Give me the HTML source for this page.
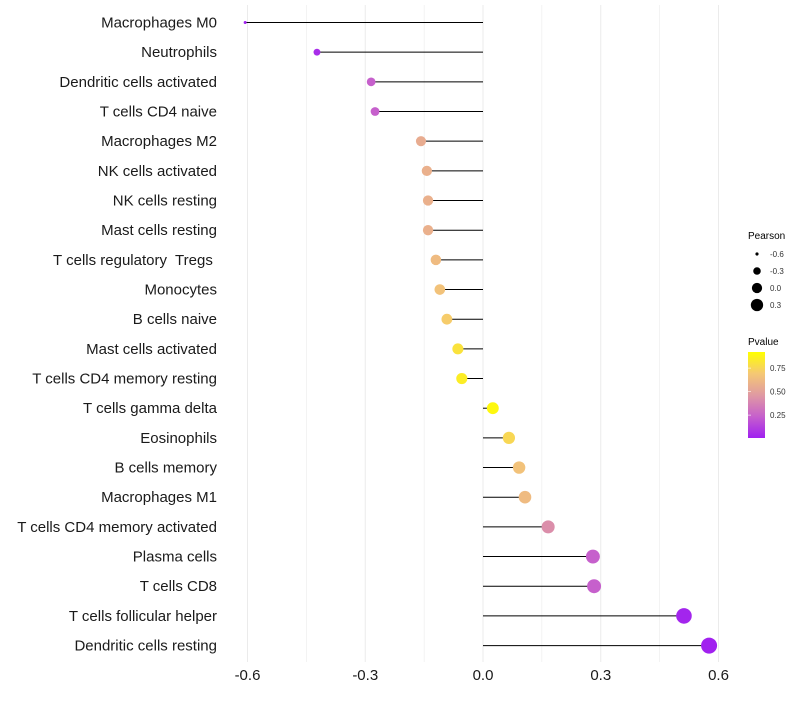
<!DOCTYPE html>
<html><head><meta charset="utf-8"><style>
body{margin:0;background:#fff;font-family:"Liberation Sans",sans-serif;}
text{white-space:pre;}
</style></head><body>
<svg id="chart" width="800" height="700" xmlns="http://www.w3.org/2000/svg" font-family="Liberation Sans, sans-serif">
<g id="grid"></g>
<g id="marks"></g>
<g id="ylabels"></g>
<g id="xlabels"></g>
<g id="legend">
<text x="748" y="239" font-size="10" fill="#000">Pearson</text>
<g id="sizeleg"></g>
<text x="748" y="345" font-size="10" fill="#000">Pvalue</text>
<defs><linearGradient id="pg" x1="0" y1="1" x2="0" y2="0">
<stop offset="0" stop-color="#A020F0"/><stop offset="0.25" stop-color="#C660CC"/><stop offset="0.5" stop-color="#E09AA2"/><stop offset="0.75" stop-color="#F5C874"/><stop offset="1" stop-color="#FFFF00"/></linearGradient></defs>
<rect x="748" y="352" width="17" height="86" fill="url(#pg)"/>
<g id="colorleg"></g>
</g>
</svg>
<script>
const categories=["Macrophages M0","Neutrophils","Dendritic cells activated","T cells CD4 naive","Macrophages M2","NK cells activated","NK cells resting","Mast cells resting","T cells regulatory  Tregs ","Monocytes","B cells naive","Mast cells activated","T cells CD4 memory resting","T cells gamma delta","Eosinophils","B cells memory","Macrophages M1","T cells CD4 memory activated","Plasma cells","T cells CD8","T cells follicular helper","Dendritic cells resting"];
const pearson=[-0.606,-0.423,-0.285,-0.275,-0.158,-0.143,-0.14,-0.14,-0.12,-0.11,-0.092,-0.064,-0.054,0.025,0.066,0.092,0.107,0.166,0.28,0.283,0.512,0.576];
const pvalue=[0.005,0.05,0.25,0.25,0.6,0.62,0.62,0.62,0.68,0.72,0.77,0.87,0.92,0.97,0.82,0.72,0.68,0.45,0.25,0.25,0.02,0.005];
const xTicks=[-0.6,-0.3,0.0,0.3,0.6];
const xTickLabels=["-0.6","-0.3","0.0","0.3","0.6"];
const sizeLegVals=[-0.6,-0.3,0.0,0.3];
const colorLegVals=[0.25,0.5,0.75];
const NS="http://www.w3.org/2000/svg";
function x(v){return 483+v*392.5;}
function y(i){return 22.5+i*29.67;}
function r(v){const t=Math.max(0,(v+0.606)/1.182);return Math.sqrt(2.25+t*(64-2.25));}
function rl(v){const t=Math.max(0,(v+0.606)/1.182);return Math.sqrt(2.25+t*(49-2.25));}
function cy(p){return 438.6-(p)*94;}
function lerp(a,b,t){return a+(b-a)*t;}
const stops=[[0,[160,32,240]],[0.25,[198,96,204]],[0.5,[224,154,162]],[0.75,[245,200,116]],[1,[255,255,0]]];
function col(p){for(let k=0;k<stops.length-1;k++){const[a,ca]=stops[k],[b,cb]=stops[k+1];if(p<=b){const t=(p-a)/(b-a);return `rgb(${ca.map((c,j)=>Math.round(lerp(c,cb[j],t))).join(',')})`;}}return 'rgb(255,255,0)';}
function mk(tag,attrs,parent){const e=document.createElementNS(NS,tag);for(const k in attrs)e.setAttribute(k,attrs[k]);parent.appendChild(e);return e;}
const grid=document.getElementById('grid');
for(let v=-0.6;v<=0.601;v+=0.15){const l=mk('line',{x1:x(v),x2:x(v),y1:5,y2:662,stroke:'#ebebeb','stroke-width':Math.abs(Math.round(v/0.15))%2===0?1:0.6},grid);

}
const marks=document.getElementById('marks'),yl=document.getElementById('ylabels');
categories.forEach((c,i)=>{
 const ln=mk('line',{x1:x(0),x2:x(pearson[i]),y1:y(i),y2:y(i),stroke:'#000','stroke-width':1},marks);
 
 
 const pt=mk('circle',{cx:x(pearson[i]),cy:y(i),r:r(pearson[i]),fill:col(pvalue[i])},marks);
 
 
 const t=mk('text',{x:217,y:y(i)+5,'text-anchor':'end','font-size':15,fill:'#1a1a1a'},yl);
 t.textContent=c;
 
 
});
const xl=document.getElementById('xlabels');
xTicks.forEach((v,i)=>{const t=mk('text',{x:x(v),y:680,'text-anchor':'middle','font-size':15,fill:'#1a1a1a'},xl);t.textContent=xTickLabels[i];

});
const sl=document.getElementById('sizeleg');
sizeLegVals.forEach((v,i)=>{const yy=254+i*17;
const c=mk('circle',{cx:757,cy:yy,r:rl(v),fill:'#000'},sl);


const t=mk('text',{x:770,y:yy+3,'font-size':8,fill:'#333'},sl);t.textContent=v.toFixed(1);

});
const cl=document.getElementById('colorleg');
colorLegVals.forEach(v=>{const yy=cy(v);
const l=mk('line',{x1:748,x2:751,y1:yy,y2:yy,stroke:'#fff','stroke-width':0.6},cl);


const t=mk('text',{x:770,y:yy+3,'font-size':8,fill:'#333'},cl);t.textContent=v.toFixed(2);

});
</script>
</body></html>
